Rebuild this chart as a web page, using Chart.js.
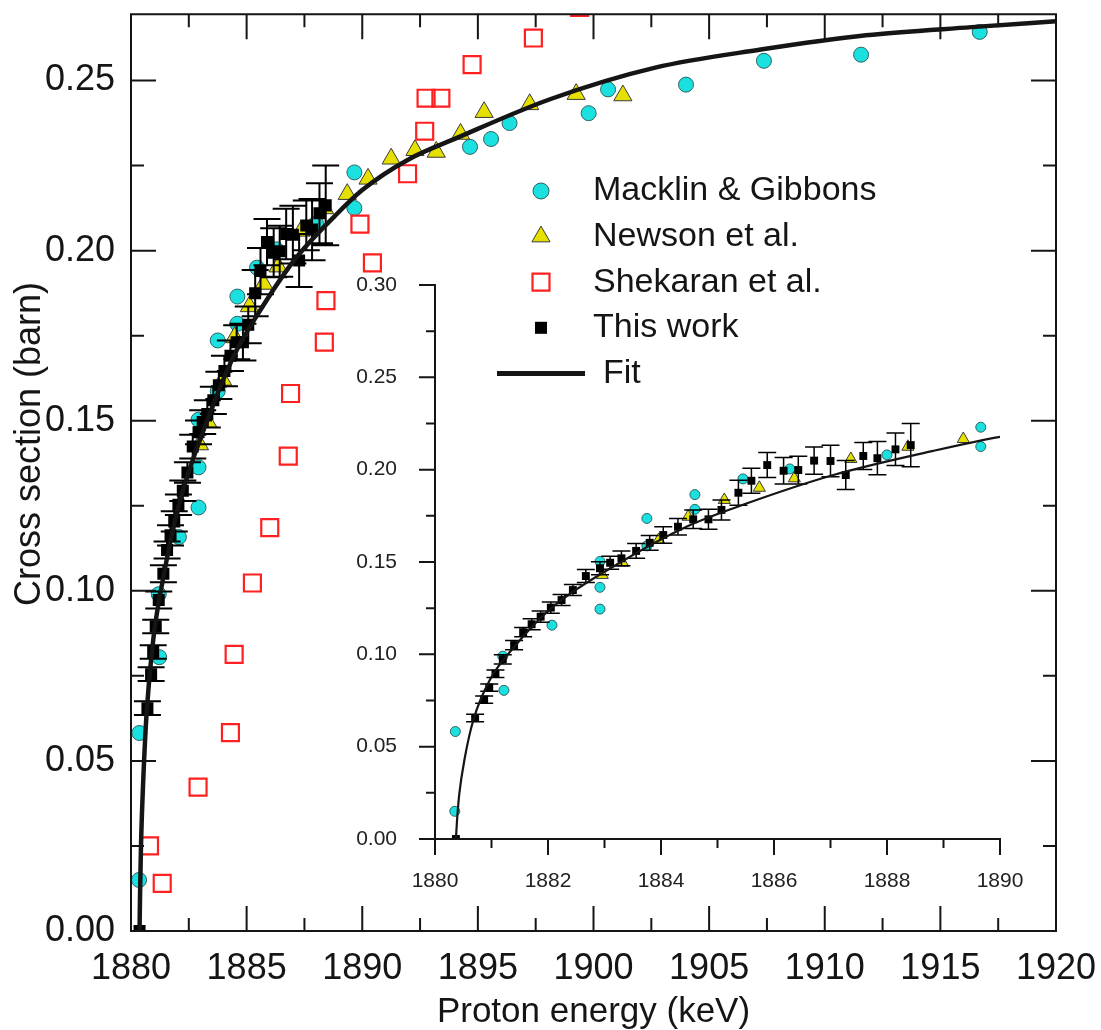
<!DOCTYPE html>
<html>
<head>
<meta charset="utf-8">
<script src="https://cdn.jsdelivr.net/npm/chart.js@4.4.1/dist/chart.umd.min.js"></script>
<style>
  html, body { margin: 0; padding: 0; background: #fff; }
  #wrap { position: relative; width: 1101px; height: 1030px; overflow: hidden; }
  #wrap canvas { position: absolute; left: 0; top: 0; }
</style>
</head>
<body>
<div id="wrap">
  <canvas id="main" width="1101" height="1030"></canvas>
  <canvas id="inset" width="1101" height="1030"></canvas>
</div>
<script>
// Macklin & Gibbons (keV, barn)
var macklinE = [1880.35, 1880.36, 1881.20, 1881.22, 1882.07, 1882.92, 1882.92, 1882.92, 1883.75, 1883.75,
                1884.60, 1884.60, 1885.45, 1886.28, 1888.00, 1889.66, 1889.66, 1894.66, 1895.57, 1896.37,
                1899.79, 1900.63, 1904.00, 1907.37, 1911.57, 1916.70];
var macklinS = [0.0150, 0.0582, 0.0990, 0.0805, 0.1158, 0.1245, 0.1363, 0.1503, 0.1587, 0.1736,
                0.1785, 0.1865, 0.1950, 0.2004, 0.2080, 0.2125, 0.2230, 0.2305, 0.2328, 0.2375,
                0.2404, 0.2474, 0.2488, 0.2558, 0.2576, 0.2643];

// Newson et al.
var newsonE = [1882.96, 1883.32, 1883.96, 1884.48, 1885.12, 1885.74, 1886.36, 1887.36, 1888.37, 1889.35,
               1890.25, 1891.25, 1892.28, 1893.20, 1894.25, 1895.27, 1897.24, 1899.25, 1901.27];
var newsonS = [0.1430, 0.1496, 0.1620, 0.1745, 0.1836, 0.1902, 0.1953, 0.2058, 0.2124, 0.2166,
               0.2211, 0.2270, 0.2295, 0.2290, 0.2343, 0.2407, 0.2430, 0.2460, 0.2456];

// Shekaran et al.
var shekaranE = [1880.80, 1881.35, 1882.90, 1884.30, 1884.46, 1885.25, 1886.00, 1886.80, 1886.90, 1888.36,
                 1888.43, 1889.90, 1890.44, 1891.96, 1892.70, 1892.76, 1893.40, 1894.75, 1897.40, 1899.40];
var shekaranS = [0.0250, 0.0140, 0.0423, 0.0583, 0.0813, 0.1023, 0.1186, 0.1396, 0.1580, 0.1731,
                 0.1853, 0.2078, 0.1964, 0.2226, 0.2351, 0.2448, 0.2448, 0.2547, 0.2625, 0.2715];

// This work, with errors
var workE = [1880.37, 1880.71, 1880.87, 1880.96, 1881.07, 1881.20, 1881.40, 1881.56, 1881.71, 1881.87,
             1882.05, 1882.24, 1882.44, 1882.67, 1882.92, 1883.10, 1883.30, 1883.56, 1883.80, 1884.04,
             1884.30, 1884.57, 1884.84, 1885.07, 1885.37, 1885.60, 1885.88, 1886.17, 1886.43, 1886.71,
             1887.00, 1887.27, 1887.58, 1887.83, 1888.15, 1888.42];
var workS = [0.0000, 0.0655, 0.0755, 0.0820, 0.0895, 0.0973, 0.1050, 0.1120, 0.1163, 0.1204,
             0.1253, 0.1294, 0.1348, 0.1424, 0.1466, 0.1496, 0.1520, 0.1560, 0.1604, 0.1646,
             0.1691, 0.1731, 0.1731, 0.1782, 0.1875, 0.1940, 0.2025, 0.1994, 0.1998, 0.2049,
             0.2047, 0.1971, 0.2074, 0.2062, 0.2110, 0.2133];
var workErr = [0, 0.0020, 0.0020, 0.0020, 0.0020, 0.0025, 0.0025, 0.0025, 0.0030, 0.0030,
               0.0030, 0.0030, 0.0030, 0.0035, 0.0035, 0.0035, 0.0040, 0.0040, 0.0040, 0.0045,
               0.0045, 0.0050, 0.0054, 0.0054, 0.0068, 0.0068, 0.0068, 0.0072, 0.0075, 0.0074,
               0.0085, 0.0078, 0.0073, 0.0090, 0.0088, 0.0117];

// Fit curve
var fitE = [1880.37, 1880.39, 1880.43, 1880.53, 1880.68, 1880.97, 1881.40, 1882.09, 1883.27, 1884.45,
            1885.50, 1887.05, 1888.82, 1890.00, 1892.00, 1894.05, 1898.12, 1902.67, 1907.23, 1911.78,
            1916.35, 1920.00];
var fitS = [0.0000, 0.0100, 0.0244, 0.0444, 0.0646, 0.0861, 0.1040, 0.1258, 0.1496, 0.1691,
            0.1815, 0.1971, 0.2102, 0.2178, 0.2268, 0.2330, 0.2445, 0.2538, 0.2591, 0.2633,
            0.2657, 0.2674];

var xTitle = 'Proton energy (keV)';
var yTitle = 'Cross section (barn)';
var legendOrder = ['Macklin & Gibbons', 'Newson et al.', 'Shekaran et al.', 'This work', 'Fit'];

var FONT = "'Liberation Sans', Arial, Helvetica, sans-serif";
var INK = '#151515';

function pts(xs, ys) {
  return xs.map(function(x, i) { return {x: x, y: ys[i]}; });
}

// simple marker drawer (same geometry as chart.js point styles)
function marker(ctx, style, r, x, y, fill, stroke, bw) {
  ctx.save();
  ctx.fillStyle = fill; ctx.strokeStyle = stroke; ctx.lineWidth = bw;
  ctx.beginPath();
  if (style === 'circle') {
    ctx.arc(x, y, r, 0, Math.PI * 2);
  } else if (style === 'triangle') {
    for (var k = 0; k < 3; k++) {
      var a = k * 2 * Math.PI / 3;
      var px = x + Math.sin(a) * r, py = y - Math.cos(a) * r;
      if (k === 0) ctx.moveTo(px, py); else ctx.lineTo(px, py);
    }
    ctx.closePath();
  } else {
    var s = Math.SQRT1_2 * r;
    ctx.rect(x - s, y - s, 2 * s, 2 * s);
  }
  ctx.fill();
  if (bw > 0) ctx.stroke();
  ctx.restore();
}

function makeSets(sz, withShekaran) {
  var sets = [
    {label: 'Fit', data: pts(fitE, fitS), showLine: true, borderColor: INK, borderWidth: sz.fit,
     pointRadius: 0, cubicInterpolationMode: 'monotone', order: 0},
    {label: 'This work', data: pts(workE, workS), errors: workErr, pointStyle: 'rect', pointRadius: sz.work,
     backgroundColor: '#000', borderColor: '#000', borderWidth: 0, order: 1},
    {label: 'Newson et al.', data: pts(newsonE, newsonS), pointStyle: 'triangle', pointRadius: sz.tri,
     backgroundColor: '#e6e000', borderColor: '#3a3a3a', borderWidth: 1, order: 3},
    {label: 'Macklin & Gibbons', data: pts(macklinE, macklinS), pointStyle: 'circle', pointRadius: sz.circ,
     backgroundColor: '#1ae0e0', borderColor: '#2f6464', borderWidth: 1, order: 4}
  ];
  if (withShekaran) {
    sets.push({label: 'Shekaran et al.', data: pts(shekaranE, shekaranS), pointStyle: 'rect', pointRadius: sz.open,
      backgroundColor: 'rgba(0,0,0,0)', borderColor: '#ff2020', borderWidth: 2.2, order: 2});
  }
  return sets;
}

// axes box, ticks, error bars, legend, titles
var frame = {
  id: 'frame',
  beforeDatasetDraw: function(chart, args, o) {
    var ds = chart.data.datasets[args.index];
    if (!ds.errors) return;
    var ctx = chart.ctx, y = chart.scales.y, half = o.cap / 2;
    ctx.save();
    ctx.strokeStyle = '#000'; ctx.lineWidth = o.errLw;
    ctx.beginPath();
    args.meta.data.forEach(function(p, i) {
      var e = ds.errors[i];
      if (!e) return;
      var y1 = y.getPixelForValue(ds.data[i].y + e), y2 = y.getPixelForValue(ds.data[i].y - e);
      ctx.moveTo(p.x, y1); ctx.lineTo(p.x, y2);
      ctx.moveTo(p.x - half, y1); ctx.lineTo(p.x + half, y1);
      ctx.moveTo(p.x - half, y2); ctx.lineTo(p.x + half, y2);
    });
    ctx.stroke();
    ctx.restore();
  },
  afterDatasetsDraw: function(chart, args, o) {
    var ctx = chart.ctx, a = chart.chartArea, x = chart.scales.x, y = chart.scales.y;
    var d = o.inward ? -1 : 1, i, v, p, L;
    ctx.save();
    ctx.strokeStyle = INK; ctx.lineWidth = o.lw; ctx.lineCap = 'square';
    ctx.beginPath();
    if (o.box) {
      ctx.rect(a.left, a.top, a.right - a.left, a.bottom - a.top);
    } else {
      ctx.moveTo(a.left, a.top); ctx.lineTo(a.left, a.bottom); ctx.lineTo(a.right, a.bottom);
    }
    ctx.stroke();
    ctx.lineCap = 'butt';
    ctx.beginPath();
    for (i = 0; (v = x.min + i * o.xMinor) <= x.max + 1e-9; i++) {
      p = x.getPixelForValue(v);
      L = Math.abs(v / o.xMajor - Math.round(v / o.xMajor)) < 1e-6 ? o.major : o.minor;
      ctx.moveTo(p, a.bottom); ctx.lineTo(p, a.bottom + d * L);
      if (o.box) { ctx.moveTo(p, a.top); ctx.lineTo(p, a.top - d * L); }
    }
    for (i = 0; (v = y.min + i * o.yMinor) <= y.max + 1e-9; i++) {
      p = y.getPixelForValue(v);
      L = Math.abs(v / o.yMajor - Math.round(v / o.yMajor)) < 1e-6 ? o.major : o.minor;
      ctx.moveTo(a.left, p); ctx.lineTo(a.left - d * L, p);
      if (o.box) { ctx.moveTo(a.right, p); ctx.lineTo(a.right + d * L, p); }
    }
    ctx.stroke();
    ctx.restore();
  },
  afterDraw: function(chart, args, o) {
    if (!o.legend) return;
    var ctx = chart.ctx, a = chart.chartArea;
    ctx.save();
    ctx.fillStyle = INK;
    // legend
    ctx.font = '34px ' + FONT;
    ctx.textAlign = 'left'; ctx.textBaseline = 'middle';
    legendOrder.forEach(function(name, k) {
      var ds = chart.data.datasets.filter(function(s) { return s.label === name; })[0];
      var ly = 191 + k * 45.6;
      if (ds.showLine) {
        ctx.save();
        ctx.strokeStyle = ds.borderColor; ctx.lineWidth = 5;
        ctx.beginPath(); ctx.moveTo(497, ly); ctx.lineTo(585, ly); ctx.stroke();
        ctx.restore();
        ctx.fillText(name, 603, ly);
      } else {
        var r = ds.pointStyle === 'circle' ? 8 : ds.pointStyle === 'triangle' ? 10.5 : ds.borderWidth ? 12 : 8.5;
        marker(ctx, ds.pointStyle, r, 541, ly, ds.backgroundColor, ds.borderColor, ds.borderWidth);
        ctx.fillStyle = INK;
        ctx.fillText(name, 593, ly);
      }
    });
    // axis titles
    ctx.textAlign = 'center'; ctx.textBaseline = 'alphabetic';
    ctx.font = '35px ' + FONT;
    ctx.fillText(xTitle, (a.left + a.right) / 2, a.bottom + 91);
    ctx.translate(40, 444);
    ctx.rotate(-Math.PI / 2);
    ctx.font = '36px ' + FONT;
    ctx.fillText(yTitle, 0, 0);
    ctx.restore();
  }
};

function axisOpts(cfg) {
  return {
    x: {
      type: 'linear', min: cfg.xmin, max: cfg.xmax,
      grid: {display: false}, border: {display: false},
      ticks: {stepSize: cfg.xstep, padding: cfg.xpad, color: cfg.color, autoSkip: false, maxRotation: 0,
              font: {family: FONT, size: cfg.font}, callback: function(v) { return String(v); }},
      afterFit: function(s) { s.height = cfg.xh; s.paddingLeft = 0; s.paddingRight = 0; }
    },
    y: {
      type: 'linear', min: 0, max: cfg.ymax,
      grid: {display: false}, border: {display: false},
      ticks: {stepSize: 0.05, includeBounds: false, padding: cfg.ypad, color: cfg.color,
              font: {family: FONT, size: cfg.font}, callback: function(v) { return v.toFixed(2); }},
      afterFit: function(s) { s.width = cfg.yw; s.paddingTop = 0; s.paddingBottom = 0; }
    }
  };
}

new Chart(document.getElementById('main'), {
  type: 'scatter',
  data: {datasets: makeSets({fit: 4.5, work: 8.5, tri: 10.5, circ: 7.5, open: 12}, true)},
  options: {
    responsive: false, animation: false, events: [], devicePixelRatio: 1,
    layout: {padding: {left: 0, top: 6, right: 45, bottom: 0}},
    plugins: {
      legend: {display: false}, tooltip: {enabled: false},
      frame: {box: true, inward: true, xMajor: 5, xMinor: 2.5, yMajor: 0.05, yMinor: 0.025,
              major: 25, minor: 13, lw: 2, cap: 27, errLw: 2, legend: true}
    },
    scales: axisOpts({xmin: 1880, xmax: 1920, xstep: 5, ymax: 0.2695, font: 36, color: INK,
                      xpad: 8, ypad: 8, xh: 99, yw: 131})
  },
  plugins: [frame]
});

new Chart(document.getElementById('inset'), {
  type: 'scatter',
  data: {datasets: makeSets({fit: 2.2, work: 5.6, tri: 7, circ: 5, open: 8}, false)},
  options: {
    responsive: false, animation: false, events: [], devicePixelRatio: 1,
    layout: {padding: {left: 0, top: 285, right: 101, bottom: 0}},
    plugins: {
      legend: {display: false}, tooltip: {enabled: false},
      frame: {box: false, inward: false, xMajor: 2, xMinor: 1, yMajor: 0.05, yMinor: 0.025,
              major: 16, minor: 9, lw: 2, cap: 18, errLw: 1.5, legend: false}
    },
    scales: axisOpts({xmin: 1880, xmax: 1890, xstep: 2, ymax: 0.30, font: 21, color: '#222',
                      xpad: 22, ypad: 30, xh: 191, yw: 435})
  },
  plugins: [frame]
});
</script>
</body>
</html>
